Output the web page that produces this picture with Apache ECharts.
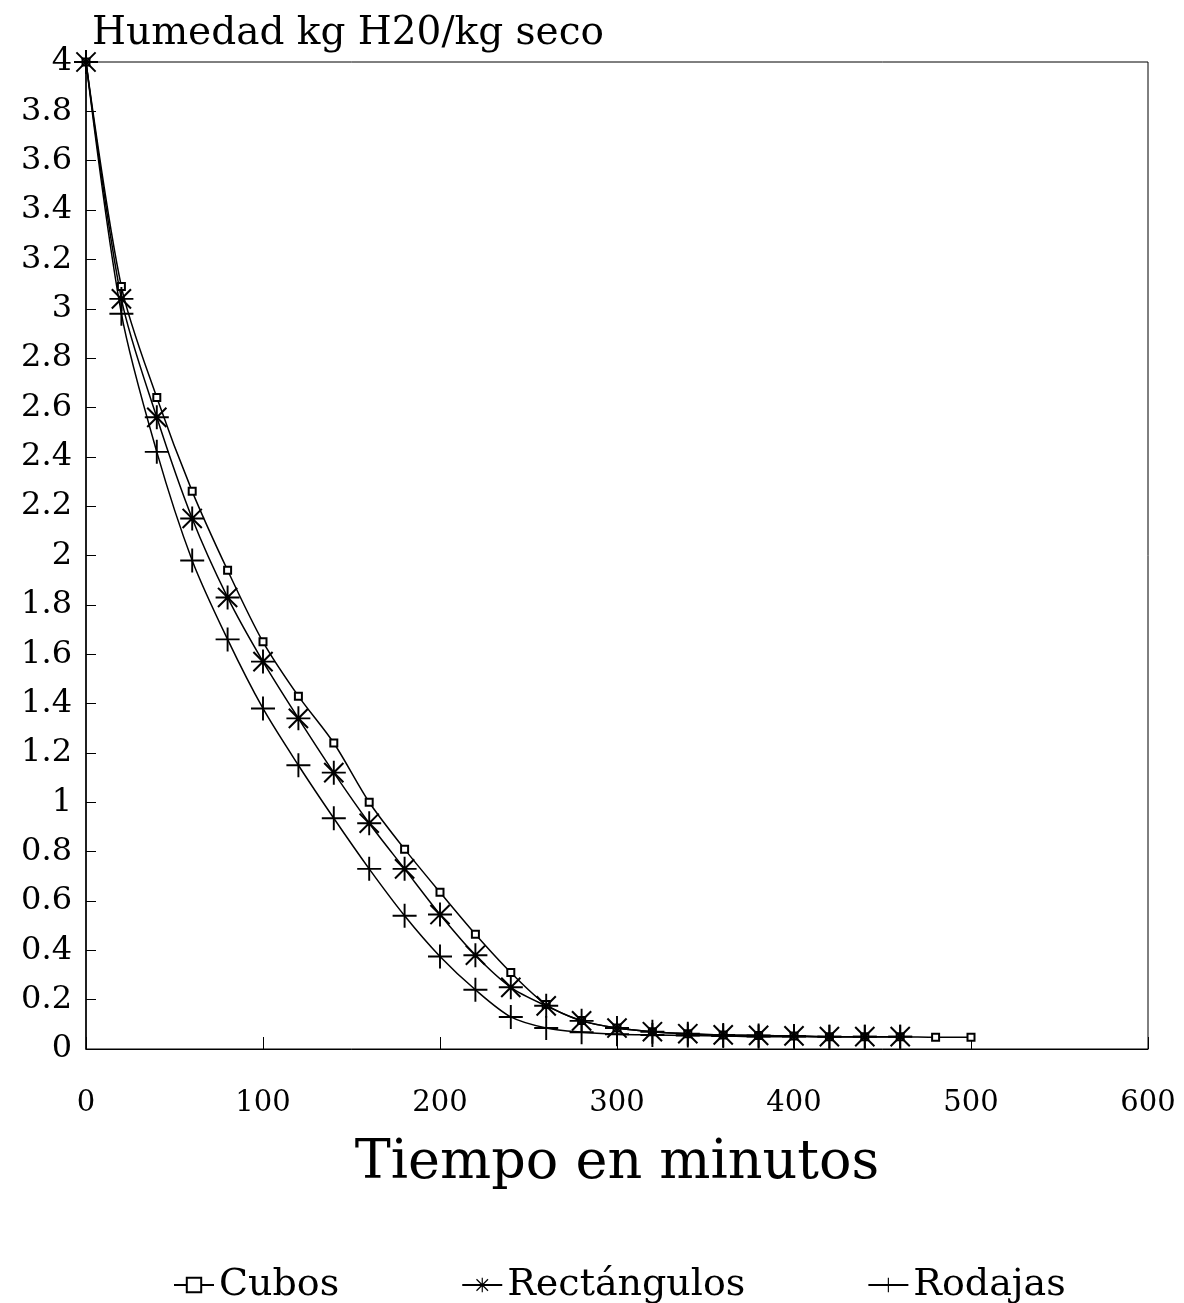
<!DOCTYPE html>
<html>
<head>
<meta charset="utf-8">
<script src="https://cdn.jsdelivr.net/npm/echarts@6/dist/echarts.min.js"></script>
<style>
  html, body { margin: 0; padding: 0; background: #fff; }
  #chart { width: 1184px; height: 1303px; }
</style>
</head>
<body>
<div id="chart"></div>
<script>
// tiempo en minutos
const tiempoCubos = [0, 20, 40, 60, 80, 100, 120, 140, 160, 180, 200, 220, 240,
  260, 280, 300, 320, 340, 360, 380, 400, 420, 440, 460, 480, 500];
const tiempoOtros = [0, 20, 40, 60, 80, 100, 120, 140, 160, 180, 200, 220, 240,
  260, 280, 300, 320, 340, 360, 380, 400, 420, 440, 460];

// humedad kg H2O / kg seco
const cubos = [4.0, 3.09, 2.64, 2.26, 1.94, 1.65, 1.43, 1.24, 1.0, 0.81, 0.635, 0.465, 0.31,
  0.18, 0.115, 0.085, 0.07, 0.062, 0.057, 0.055, 0.053, 0.05, 0.05, 0.05, 0.048, 0.048];
const rectangulos = [4.0, 3.04, 2.56, 2.15, 1.83, 1.57, 1.34, 1.12, 0.915, 0.73, 0.545, 0.38, 0.25,
  0.175, 0.114, 0.085, 0.07, 0.062, 0.057, 0.055, 0.053, 0.05, 0.05, 0.05];
const rodajas = [4.0, 2.98, 2.42, 1.98, 1.66, 1.38, 1.15, 0.935, 0.73, 0.54, 0.375, 0.24, 0.13,
  0.085, 0.068, 0.06, 0.057, 0.055, 0.053, 0.05, 0.05, 0.05, 0.05, 0.05];

const serieNames = ["Cubos", "Rectángulos", "Rodajas"];

const fontFamily = "DejaVu Serif";
const plusPath = "path://M9.2,0H10.8V20H9.2Z M0,9.2H20V10.8H0Z";
const starPath = "path://M9.2,0H10.8V20H9.2Z M0,9.2H20V10.8H0Z " +
  "M1.4,2.6L2.6,1.4L18.6,17.4L17.4,18.6Z M17.4,1.4L18.6,2.6L2.6,18.6L1.4,17.4Z";

const pairs = (xs, ys) => xs.map((x, i) => [x, ys[i]]);

const chart = echarts.init(document.getElementById("chart"));

const lineStyle = { color: "#000", width: 1.5 };

const option = {
  animation: false,
  backgroundColor: "#fff",
  textStyle: { fontFamily: fontFamily, color: "#000" },
  grid: {
    left: 86,
    right: 36,
    top: 62,
    bottom: 254,
    show: true,
    borderColor: "#000",
    borderWidth: 1
  },
  legend: {
    left: 168,
    top: 1261,
    itemGap: 122,
    itemWidth: 40,
    itemHeight: 18,
    data: serieNames,
    textStyle: { fontFamily: fontFamily, fontSize: 38, color: "#000" }
  },
  xAxis: {
    type: "value",
    min: 0,
    max: 600,
    interval: 100,
    name: "Tiempo en minutos",
    nameLocation: "middle",
    nameGap: 88,
    nameTextStyle: { fontFamily: fontFamily, fontSize: 54, color: "#000" },
    axisLine: { lineStyle: { color: "#000", width: 1 } },
    axisTick: { inside: true, length: 12, lineStyle: { color: "#000" } },
    axisLabel: { margin: 40, fontSize: 29, color: "#000", fontFamily: fontFamily },
    splitLine: { show: false }
  },
  yAxis: {
    type: "value",
    min: 0,
    max: 4,
    interval: 0.2,
    name: "Humedad kg H20/kg seco",
    nameLocation: "end",
    nameGap: 9,
    nameTextStyle: {
      fontFamily: fontFamily,
      fontSize: 39,
      color: "#000",
      align: "left",
      padding: [0, 0, 0, 6]
    },
    axisLine: { show: true, lineStyle: { color: "#000", width: 1.5 } },
    axisTick: { inside: true, length: 10, lineStyle: { color: "#000" } },
    axisLabel: { margin: 14, fontSize: 32, color: "#000", fontFamily: fontFamily },
    splitLine: { show: false }
  },
  series: [
    {
      name: serieNames[0],
      type: "line",
      smooth: 0.3,
      data: pairs(tiempoCubos, cubos),
      symbol: "emptyRect",
      symbolSize: 7,
      itemStyle: { color: "#000", borderColor: "#000", borderWidth: 1.2 },
      lineStyle: lineStyle
    },
    {
      name: serieNames[1],
      type: "line",
      smooth: 0.3,
      data: pairs(tiempoOtros, rectangulos),
      symbol: starPath,
      symbolSize: 24,
      itemStyle: { color: "#000", borderWidth: 0 },
      lineStyle: lineStyle
    },
    {
      name: serieNames[2],
      type: "line",
      smooth: 0.3,
      data: pairs(tiempoOtros, rodajas),
      symbol: plusPath,
      symbolSize: 24,
      itemStyle: { color: "#000", borderWidth: 0 },
      lineStyle: lineStyle
    }
  ]
};

chart.setOption(option);
</script>
</body>
</html>
